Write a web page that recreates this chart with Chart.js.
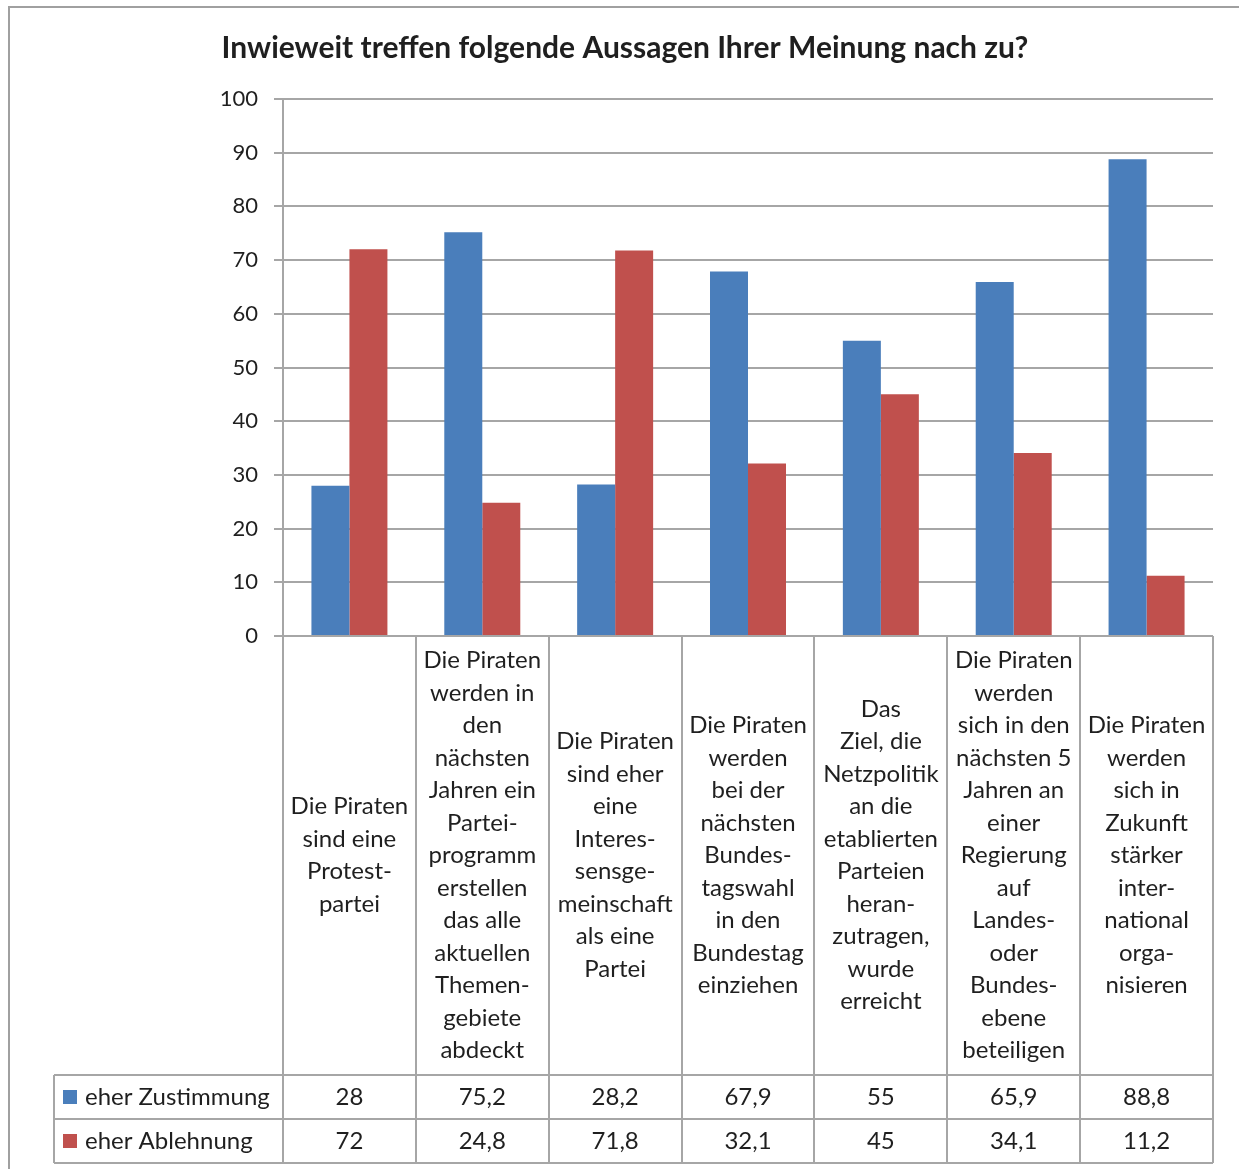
<!DOCTYPE html>
<html lang="de">
<head>
<meta charset="utf-8"/>
<title>Piraten Umfrage</title>
<style>
  body { margin: 0; padding: 0; background: #fff; }
  #wrap { width: 1239px; height: 1169px; position: relative; }
</style>
</head>
<body>
<div id="wrap"><canvas id="chart"></canvas></div>
<script src="https://cdn.jsdelivr.net/npm/chart.js"></script>
<script>
const title = "Inwieweit treffen folgende Aussagen Ihrer Meinung nach zu?";
const categories = [
  ["Die Piraten", "sind eine", "Protest-", "partei"],
  ["Die Piraten", "werden in", "den", "nächsten", "Jahren ein", "Partei-", "programm", "erstellen", "das alle", "aktuellen", "Themen-", "gebiete", "abdeckt"],
  ["Die Piraten", "sind eher", "eine", "Interes-", "sensge-", "meinschaft", "als eine", "Partei"],
  ["Die Piraten", "werden", "bei der", "nächsten", "Bundes-", "tagswahl", "in den", "Bundestag", "einziehen"],
  ["Das", "Ziel, die", "Netzpolitik", "an die", "etablierten", "Parteien", "heran-", "zutragen,", "wurde", "erreicht"],
  ["Die Piraten", "werden", "sich in den", "nächsten 5", "Jahren an", "einer", "Regierung", "auf", "Landes-", "oder", "Bundes-", "ebene", "beteiligen"],
  ["Die Piraten", "werden", "sich in", "Zukunft", "stärker", "inter-", "national", "orga-", "nisieren"]
];
const seriesNames = ["eher Zustimmung", "eher Ablehnung"];
const zustimmung = [28, 75.2, 28.2, 67.9, 55, 65.9, 88.8];
const ablehnung = [72, 24.8, 71.8, 32.1, 45, 34.1, 11.2];
const yMin = 0, yMax = 100, yStep = 10;

const colors = ["#4A7EBB", "#C0504D"];
const gridColor = "#A6A6A6";
const textColor = "#1F1F1F";
const fontFamily = "Lato, 'Open Sans', sans-serif";

const fmt = v => String(v).replace(".", ",");

// frame, title and the Excel-like data table under the plot (aligned to the x scale)
const dataTable = {
  id: "dataTable",
  beforeDraw(chart) {
    const ctx = chart.ctx;
    ctx.save();
    ctx.strokeStyle = "#A0A0A0";
    ctx.lineWidth = 2;
    ctx.strokeRect(9, 7, 1260, 1200);
    ctx.fillStyle = textColor;
    ctx.font = "bold 30px " + fontFamily;
    ctx.textAlign = "center";
    ctx.textBaseline = "middle";
    ctx.fillText(title, 625, 48.8);
    ctx.restore();
  },
  afterDraw(chart) {
    const { ctx, chartArea } = chart;
    const x = chart.scales.x;
    const n = categories.length;
    const w = (chartArea.right - chartArea.left) / n;
    const top = chartArea.bottom;
    const labelH = 439, rowH = 44, legendLeft = 54;
    const r1 = top + labelH, r2 = r1 + rowH, r3 = r2 + rowH;
    const series = [zustimmung, ablehnung];

    ctx.save();
    ctx.strokeStyle = gridColor;
    ctx.lineWidth = 2;
    ctx.beginPath();
    for (let i = 0; i <= n; i++) {
      const bx = Math.round(x.getPixelForValue(0) - w / 2 + i * w);
      ctx.moveTo(bx, top);
      ctx.lineTo(bx, r3);
    }
    ctx.moveTo(legendLeft, r1);
    ctx.lineTo(legendLeft, r3);
    [r1, r2, r3].forEach(y => {
      ctx.moveTo(legendLeft, y);
      ctx.lineTo(chartArea.right, y);
    });
    ctx.stroke();

    ctx.fillStyle = textColor;
    ctx.font = "24px " + fontFamily;
    ctx.textAlign = "center";
    ctx.textBaseline = "middle";
    const lh = 32.5;
    const mid = top + labelH / 2;
    categories.forEach((lines, i) => {
      const cx = x.getPixelForValue(i);
      const y0 = mid - (lines.length - 1) * lh / 2;
      lines.forEach((t, j) => ctx.fillText(t, cx, y0 + j * lh));
      series.forEach((s, k) => ctx.fillText(fmt(s[i]), cx, r1 + rowH * k + rowH / 2));
    });

    ctx.textAlign = "left";
    seriesNames.forEach((name, k) => {
      const cy = r1 + rowH * k + rowH / 2;
      ctx.fillStyle = colors[k];
      ctx.fillRect(legendLeft + 9, cy - 7, 14, 14);
      ctx.fillStyle = textColor;
      ctx.fillText(name, legendLeft + 31, cy);
    });
    ctx.restore();
  }
};

new Chart(document.getElementById("chart"), {
  type: "bar",
  data: {
    labels: categories,
    datasets: [
      { label: seriesNames[0], data: zustimmung, backgroundColor: colors[0] },
      { label: seriesNames[1], data: ablehnung, backgroundColor: colors[1] }
    ]
  },
  options: {
    responsive: true,
    maintainAspectRatio: false,
    animation: false,
    devicePixelRatio: 1,
    categoryPercentage: 0.572,
    barPercentage: 1,
    layout: { padding: { top: 99, left: 0, right: 26, bottom: 533 } },
    plugins: {
      legend: { display: false },
      tooltip: { enabled: false },
      title: { display: false }
    },
    scales: {
      x: { display: false },
      y: {
        min: yMin,
        max: yMax,
        afterFit(scale) { scale.width = 283; },
        ticks: {
          stepSize: yStep,
          padding: 16,
          color: textColor,
          font: { family: fontFamily, size: 22 }
        },
        grid: { color: gridColor, lineWidth: 2, tickLength: 9 },
        border: { color: gridColor, width: 2 }
      }
    }
  },
  plugins: [dataTable]
});
</script>
</body>
</html>
